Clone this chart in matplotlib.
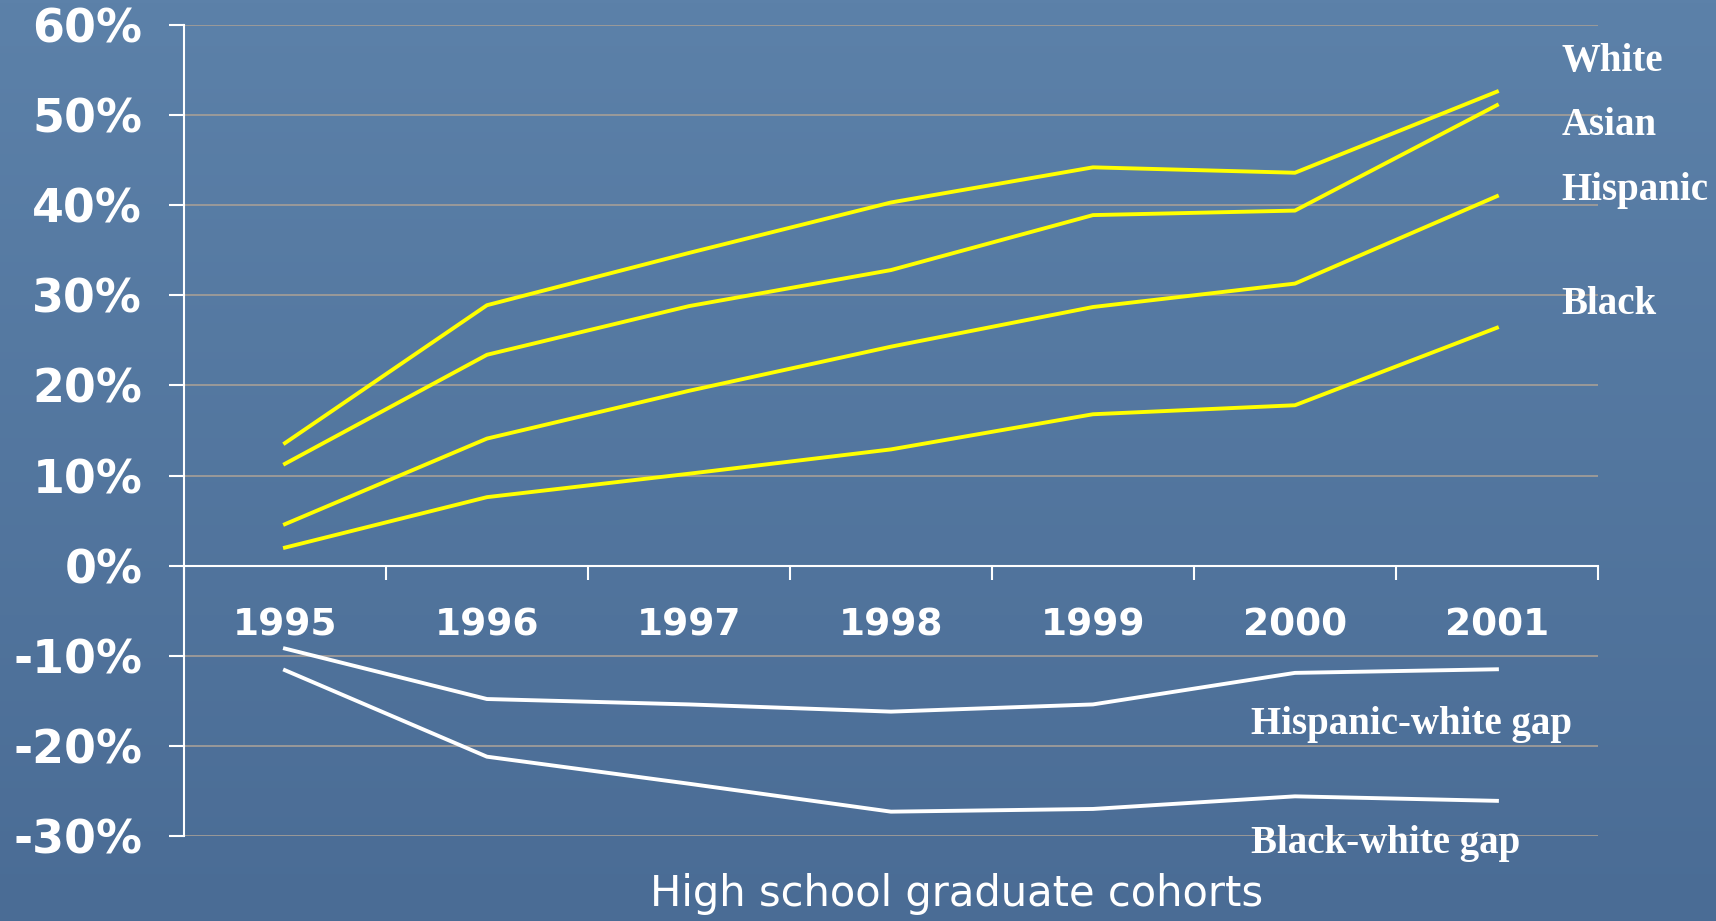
import numpy as np
import matplotlib.pyplot as plt
from matplotlib.ticker import FuncFormatter

# Coortes de formandos do ensino medio
years = ['1995', '1996', '1997', '1998', '1999', '2000', '2001']

# Series (percentual)
white = [13.6, 28.9, 34.7, 40.3, 44.2, 43.6, 52.6]
asian = [11.3, 23.4, 28.8, 32.8, 38.9, 39.4, 51.1]
hispanic = [4.6, 14.1, 19.4, 24.3, 28.7, 31.3, 41.0]
black = [2.0, 7.6, 10.2, 12.9, 16.8, 17.8, 26.4]

# Diferencas em relacao aos brancos
hisp_white_gap = [-9.2, -14.8, -15.4, -16.2, -15.4, -11.9, -11.5]
black_white_gap = [-11.6, -21.2, -24.2, -27.3, -27.0, -25.6, -26.1]

yticks = [-30, -20, -10, 0, 10, 20, 30, 40, 50, 60]

fig = plt.figure(figsize=(17.16, 9.21), dpi=100)

# fundo azul em degrade
bg = fig.add_axes([0, 0, 1, 1], zorder=0)
grad = np.linspace(0, 1, 256).reshape(-1, 1)
top = np.array([0x5c, 0x81, 0xa9]) / 255
bottom = np.array([0x4a, 0x6c, 0x95]) / 255
img = top + (bottom - top) * grad[:, :, None]
bg.imshow(img, aspect='auto', extent=[0, 1, 0, 1])
bg.axis('off')

ax = fig.add_axes([0.1072, 0.0923, 0.824, 0.8806], zorder=1)
ax.patch.set_alpha(0)
x = np.arange(len(years))

ax.plot(x, white, color='#ffff00', lw=2.8, zorder=3)
ax.plot(x, asian, color='#ffff00', lw=2.8, zorder=3)
ax.plot(x, hispanic, color='#ffff00', lw=2.8, zorder=3)
ax.plot(x, black, color='#ffff00', lw=2.8, zorder=3)
ax.plot(x, hisp_white_gap, color='white', lw=2.8, zorder=3)
ax.plot(x, black_white_gap, color='white', lw=2.8, zorder=3)

ax.set_xlim(-0.5, 6.5)
ax.set_ylim(-30, 60)

# linhas de grade
for v in yticks:
    if v != 0:
        ax.axhline(v, color='#a09c98', lw=1.3, zorder=1)

for s in ['top', 'right']:
    ax.spines[s].set_visible(False)
ax.spines['left'].set_color('white')
ax.spines['left'].set_linewidth(1.5)
ax.spines['bottom'].set_position(('data', 0))
ax.spines['bottom'].set_color('white')
ax.spines['bottom'].set_linewidth(1.5)
ax.spines['left'].set_zorder(2)
ax.spines['bottom'].set_zorder(2)

ax.set_yticks(yticks)
ax.yaxis.set_major_formatter(FuncFormatter(lambda v, p: '%d%%' % v))
ax.tick_params(axis='y', colors='white', length=11, width=1.5, pad=19,
               labelsize=33)
for lbl in ax.get_yticklabels():
    lbl.set_fontweight('bold')

ax.set_xticks(np.arange(-0.5, 7, 1))
ax.set_xticklabels([])
ax.tick_params(axis='x', colors='white', length=10, width=1.5, direction='out')

for i, yr in enumerate(years):
    ax.text(i, -6.6, yr, color='white', fontsize=27, fontweight='bold',
            ha='center', va='center')

# rotulos das series
serif = dict(color='white', fontsize=28, fontweight='bold',
             family='Liberation Serif', va='center', ha='left', clip_on=False,
             zorder=4)
ax.text(6.32, 56.0, 'White', **serif)
ax.text(6.32, 48.8, 'Asian', **serif)
ax.text(6.32, 41.6, 'Hispanic', **serif)
ax.text(6.32, 29.0, 'Black', **serif)
ax.text(4.78, -17.6, 'Hispanic-white gap', **serif)
ax.text(4.78, -30.8, 'Black-white gap', **serif)

fig.text(957 / 1716, 1 - 894 / 921, 'High school graduate cohorts',
         color='white', fontsize=30, ha='center', va='center')

fig.savefig('out.png', dpi=100)
